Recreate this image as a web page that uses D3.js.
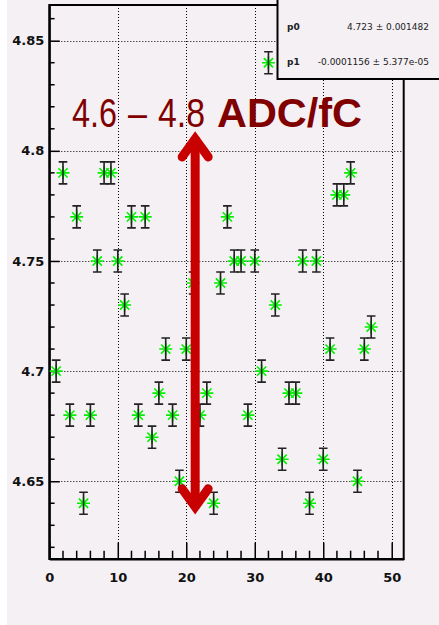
<!DOCTYPE html>
<html>
<head>
<meta charset="utf-8">
<script src="https://cdn.jsdelivr.net/npm/d3@7"></script>
<style>
  html, body { margin: 0; padding: 0; background: #ffffff; overflow: hidden; }
  svg { display: block; }
</style>
</head>
<body>
<script>
// Gain per channel (ADC/fC) with a linear fit summary
const channels = [1,2,3,4,5,6,7,8,9,10,11,12,13,14,15,16,17,18,19,20,21,22,23,24,25,26,27,28,29,30,31,32,33,34,35,36,37,38,39,40,41,42,43,44,45,46,47];
const gains = [4.70,4.79,4.68,4.77,4.64,4.68,4.75,4.79,4.79,4.75,4.73,4.77,4.68,4.77,4.67,4.69,4.71,4.68,4.65,4.71,4.74,4.68,4.69,4.64,4.74,4.77,4.75,4.75,4.68,4.75,4.70,4.84,4.73,4.66,4.69,4.69,4.75,4.64,4.75,4.66,4.71,4.78,4.78,4.79,4.65,4.71,4.72];
const gainError = 0.005;

const xTicks = [0, 10, 20, 30, 40, 50];
const yTicks = [4.65, 4.7, 4.75, 4.8, 4.85];
const yTickLabels = ["4.65", "4.7", "4.75", "4.8", "4.85"];

const fitNames = ["p0", "p1"];
const fitValues = ["4.723 \u00b1  0.001482", "-0.0001156 \u00b1  5.377e-05"];

const rangeParts = ["4.6", "\u2013", "4.8"];
const unitLabel = "ADC/fC";
const rangeArrow = [4.635, 4.8088];   // vertical extent of the annotation arrow
const arrowChannel = 21.3;

const W = 439, H = 625;
const bg = "#f4f0f4";
const frame = { left: 49.3, right: 403.7, top: 5, bottom: 559 };

const svg = d3.select("body").append("svg").attr("width", W).attr("height", H);
svg.append("rect").attr("width", W).attr("height", H).attr("fill", "#ffffff");
svg.append("rect").attr("x", 7).attr("width", W - 7).attr("height", H).attr("fill", bg);

const x = d3.scaleLinear().domain([0, 51.75]).range([frame.left, frame.right]);
const y = d3.scaleLinear().domain([4.6147, 4.8662]).range([frame.bottom, frame.top]);

const pts = channels.map((c, i) => ({ c, v: gains[i] }));

// dotted grid at the major ticks
const grid = svg.append("g").attr("stroke", "#000").attr("stroke-width", 1).attr("stroke-dasharray", "1,2");
grid.selectAll("line.gx").data(xTicks.filter(t => t > 0)).join("line")
  .attr("x1", d => Math.round(x(d)) + 0.5).attr("x2", d => Math.round(x(d)) + 0.5)
  .attr("y1", frame.top).attr("y2", frame.bottom);
grid.selectAll("line.gy").data(yTicks).join("line")
  .attr("y1", d => Math.round(y(d)) + 0.5).attr("y2", d => Math.round(y(d)) + 0.5)
  .attr("x1", frame.left).attr("x2", frame.right);

// frame
svg.append("rect")
  .attr("x", frame.left).attr("y", frame.top)
  .attr("width", frame.right - frame.left).attr("height", frame.bottom - frame.top)
  .attr("fill", "none").attr("stroke", "#000").attr("stroke-width", 2);

// axes with inward ticks
const tickFont = "'DejaVu Sans', sans-serif";
const yAxis = d3.axisLeft(y).tickValues(yTicks).tickFormat((d, i) => yTickLabels[i])
  .tickSizeInner(-10.5).tickSizeOuter(0).tickPadding(5);
const gy = svg.append("g").attr("transform", `translate(${frame.left},0)`).call(yAxis);
const xAxis = d3.axisBottom(x).tickValues(xTicks).tickFormat(d3.format("d"))
  .tickSizeInner(-16.5).tickSizeOuter(0).tickPadding(13.5);
const gx = svg.append("g").attr("transform", `translate(0,${frame.bottom})`).call(xAxis);
[gx, gy].forEach(g => {
  g.select(".domain").attr("stroke", "#000").attr("stroke-width", 2);
  g.selectAll(".tick line").attr("stroke", "#000").attr("stroke-width", 1.5);
  g.selectAll(".tick text").attr("font-family", tickFont).attr("font-weight", "bold")
    .attr("font-size", 13).attr("fill", "#111");
});

// minor ticks
const yMinor = d3.range(4.62, 4.865, 0.01).filter(v => !yTicks.some(t => Math.abs(t - v) < 1e-6));
svg.append("g").selectAll("line").data(yMinor).join("line")
  .attr("x1", frame.left).attr("x2", frame.left + 5.3)
  .attr("y1", d => y(d)).attr("y2", d => y(d))
  .attr("stroke", "#000").attr("stroke-width", 1.5);
const xMinor = d3.range(2, 51.5, 2).filter(v => v % 10 !== 0);
svg.append("g").selectAll("line").data(xMinor).join("line")
  .attr("x1", d => x(d)).attr("x2", d => x(d))
  .attr("y1", frame.bottom).attr("y2", frame.bottom - 8.3)
  .attr("stroke", "#000").attr("stroke-width", 1.5);

// star markers
const r = 6.5, rd = 4.6;
const starPath = `M${-r},0H${r}M0,${-r}V${r}M${-rd},${-rd}L${rd},${rd}M${-rd},${rd}L${rd},${-rd}`;
svg.append("g").selectAll("path").data(pts).join("path")
  .attr("transform", d => `translate(${x(d.c)},${y(d.v)})`)
  .attr("d", starPath).attr("fill", "none")
  .attr("stroke", "#00f000").attr("stroke-width", 1.6);

// error bars with caps
const eb = svg.append("g").attr("stroke", "#222").attr("stroke-width", 1.6).attr("fill", "none");
eb.selectAll("path").data(pts).join("path")
  .attr("d", d => {
    const cx = x(d.c), y0 = y(d.v - gainError), y1 = y(d.v + gainError), cw = 4.3;
    return `M${cx},${y0}V${y1}M${cx - cw},${y1}H${cx + cw}M${cx - cw},${y0}H${cx + cw}`;
  });

// range label: narrow figures, then the bold unit
const partX = [72, 128, 158], partLen = [45, 19, 47];
const rl = svg.append("text").attr("y", 127)
  .attr("font-family", "'Liberation Sans Narrow', 'Liberation Sans', sans-serif")
  .attr("font-size", 40).attr("fill", "#800000");
rl.selectAll("tspan").data(rangeParts).join("tspan")
  .attr("x", (d, i) => partX[i]).text(d => d)
  .attr("textLength", (d, i) => partLen[i]).attr("lengthAdjust", "spacingAndGlyphs");
svg.append("text").text(unitLabel)
  .attr("x", 217).attr("y", 127)
  .attr("font-family", "'Liberation Sans', Arial, sans-serif").attr("font-weight", "bold")
  .attr("font-size", 40).attr("fill", "#800000")
  .attr("textLength", 145).attr("lengthAdjust", "spacingAndGlyphs");

// double-headed arrow
const ax = x(arrowChannel), aTop = y(rangeArrow[1]), aBot = y(rangeArrow[0]);
const arrow = svg.append("g").attr("stroke", "#c80000").attr("fill", "none")
  .attr("stroke-width", 9).attr("stroke-linejoin", "miter").attr("stroke-miterlimit", 10);
arrow.append("line").attr("x1", ax).attr("x2", ax).attr("y1", aTop + 6).attr("y2", aBot - 6);
const hw = 13, hl = 18, off = 7.5;
arrow.append("path").attr("stroke-linecap", "round")
  .attr("d", `M${ax - hw},${aTop + off + hl}L${ax},${aTop + off}L${ax + hw},${aTop + off + hl}`);
arrow.append("path").attr("stroke-linecap", "round")
  .attr("d", `M${ax - hw},${aBot - off - hl}L${ax},${aBot - off}L${ax + hw},${aBot - off - hl}`);

// fit parameter box
const box = svg.append("g");
box.append("rect").attr("x", 277.5).attr("y", -30).attr("width", 200).attr("height", 109)
  .attr("fill", bg).attr("stroke", "#000").attr("stroke-width", 2);
const rowsY = [30, 65];
box.selectAll("text.n").data(fitNames).join("text").attr("class", "n")
  .attr("x", 287).attr("y", (d, i) => rowsY[i]).text(d => d)
  .attr("font-family", tickFont).attr("font-size", 9).attr("font-weight", "bold").attr("fill", "#222");
box.selectAll("text.v").data(fitValues).join("text").attr("class", "v")
  .attr("x", 429).attr("y", (d, i) => rowsY[i]).attr("text-anchor", "end").text(d => d)
  .attr("font-family", tickFont).attr("font-size", 9).attr("fill", "#222");
</script>
</body>
</html>
